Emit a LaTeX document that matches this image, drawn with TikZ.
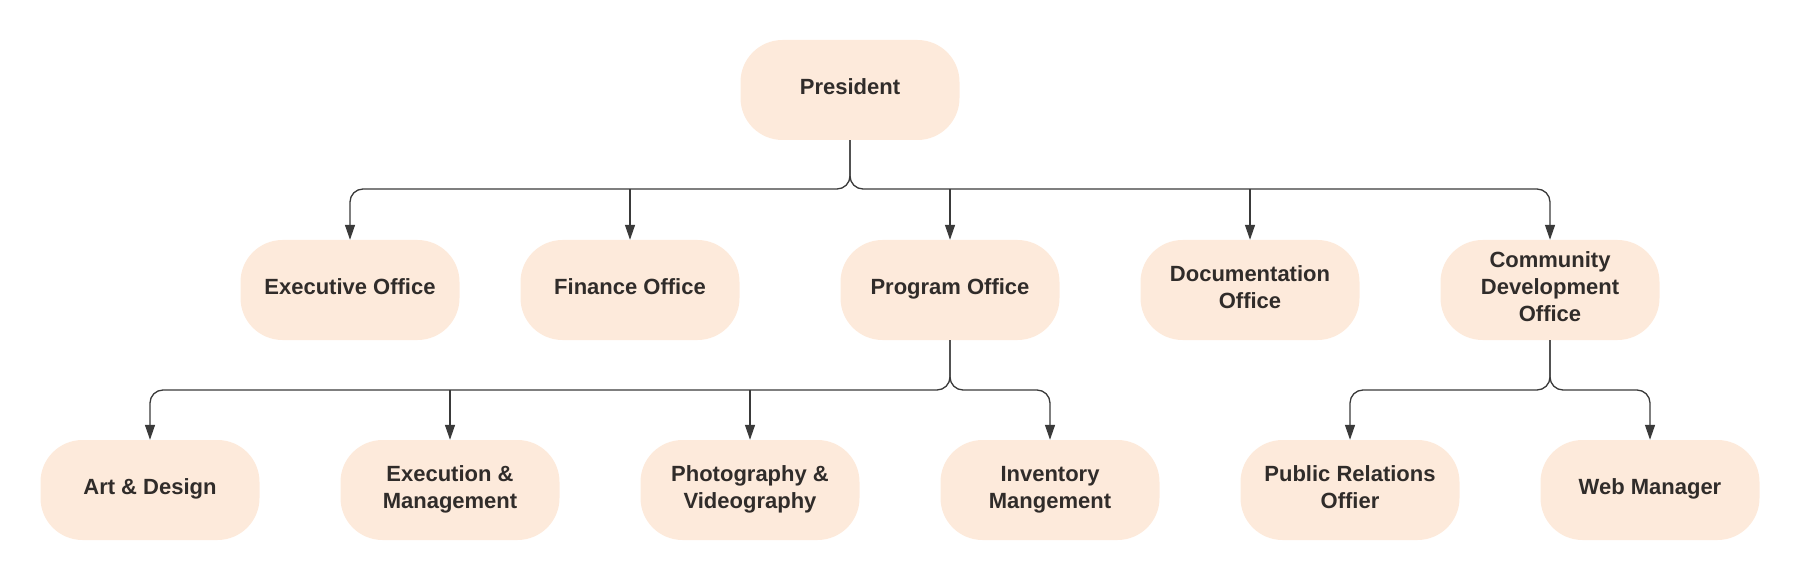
\documentclass[tikz,border=0pt]{standalone}
\usepackage{fontspec}
\setmainfont{Liberation Sans}
\usetikzlibrary{arrows.meta}
\definecolor{boxfill}{HTML}{FDEADB}
\definecolor{txt}{HTML}{302C2A}
\definecolor{linec}{HTML}{3A3A3A}
\tikzset{
  orgbox/.style={draw=none, fill=boxfill, rounded corners=42pt,
    minimum width=219pt, minimum height=100pt, inner sep=0pt,
    text depth=6pt,
    align=center, text=txt, font=\fontsize{22}{27}\selectfont\bfseries},
  conn/.style={draw=linec, line width=1.3pt, rounded corners=13pt,
    -{Triangle[length=15pt,width=10pt]}},
  straightconn/.style={draw=linec, line width=1.3pt,
    -{Triangle[length=15pt,width=10pt]}}
}
\begin{document}
\begin{tikzpicture}[x=1pt,y=-1pt]
\useasboundingbox (0,0) rectangle (1800,580);
% level 0
\node[orgbox] (pres) at (850,90) {President};
% level 1
\node[orgbox] (exec) at (350,290) {Executive Office};
\node[orgbox] (fin)  at (630,290) {Finance Office};
\node[orgbox] (prog) at (950,290) {Program Office};
\node[orgbox] (doc)  at (1250,290) {Documentation\\Office};
\node[orgbox] (comm) at (1550,290) {Community\\Development\\Office};
% level 2
\node[orgbox] (art)  at (150,490) {Art \& Design};
\node[orgbox] (execm) at (450,490) {Execution \&\\Management};
\node[orgbox] (photo) at (750,490) {Photography \&\\Videography};
\node[orgbox] (inv)  at (1050,490) {Inventory\\Mangement};
\node[orgbox] (pr)   at (1350,490) {Public Relations\\Offier};
\node[orgbox] (web)  at (1650,490) {Web Manager};
% buses
\coordinate (bus1) at (850,189);
\coordinate (bus2) at (950,390);
\coordinate (bus3) at (1550,390);
% president connectors
\draw[conn] (pres.south) |- (exec.north |- bus1) -- (exec.north);
\draw[conn] (pres.south) |- (comm.north |- bus1) -- (comm.north);
\draw[straightconn] (fin.north |- bus1) -- (fin.north);
\draw[straightconn] (prog.north |- bus1) -- (prog.north);
\draw[straightconn] (doc.north |- bus1) -- (doc.north);
% program connectors
\draw[conn] (prog.south) |- (art.north |- bus2) -- (art.north);
\draw[conn] (prog.south) |- (inv.north |- bus2) -- (inv.north);
\draw[straightconn] (execm.north |- bus2) -- (execm.north);
\draw[straightconn] (photo.north |- bus2) -- (photo.north);
% community connectors
\draw[conn] (comm.south) |- (pr.north |- bus3) -- (pr.north);
\draw[conn] (comm.south) |- (web.north |- bus3) -- (web.north);
\end{tikzpicture}
\end{document}
